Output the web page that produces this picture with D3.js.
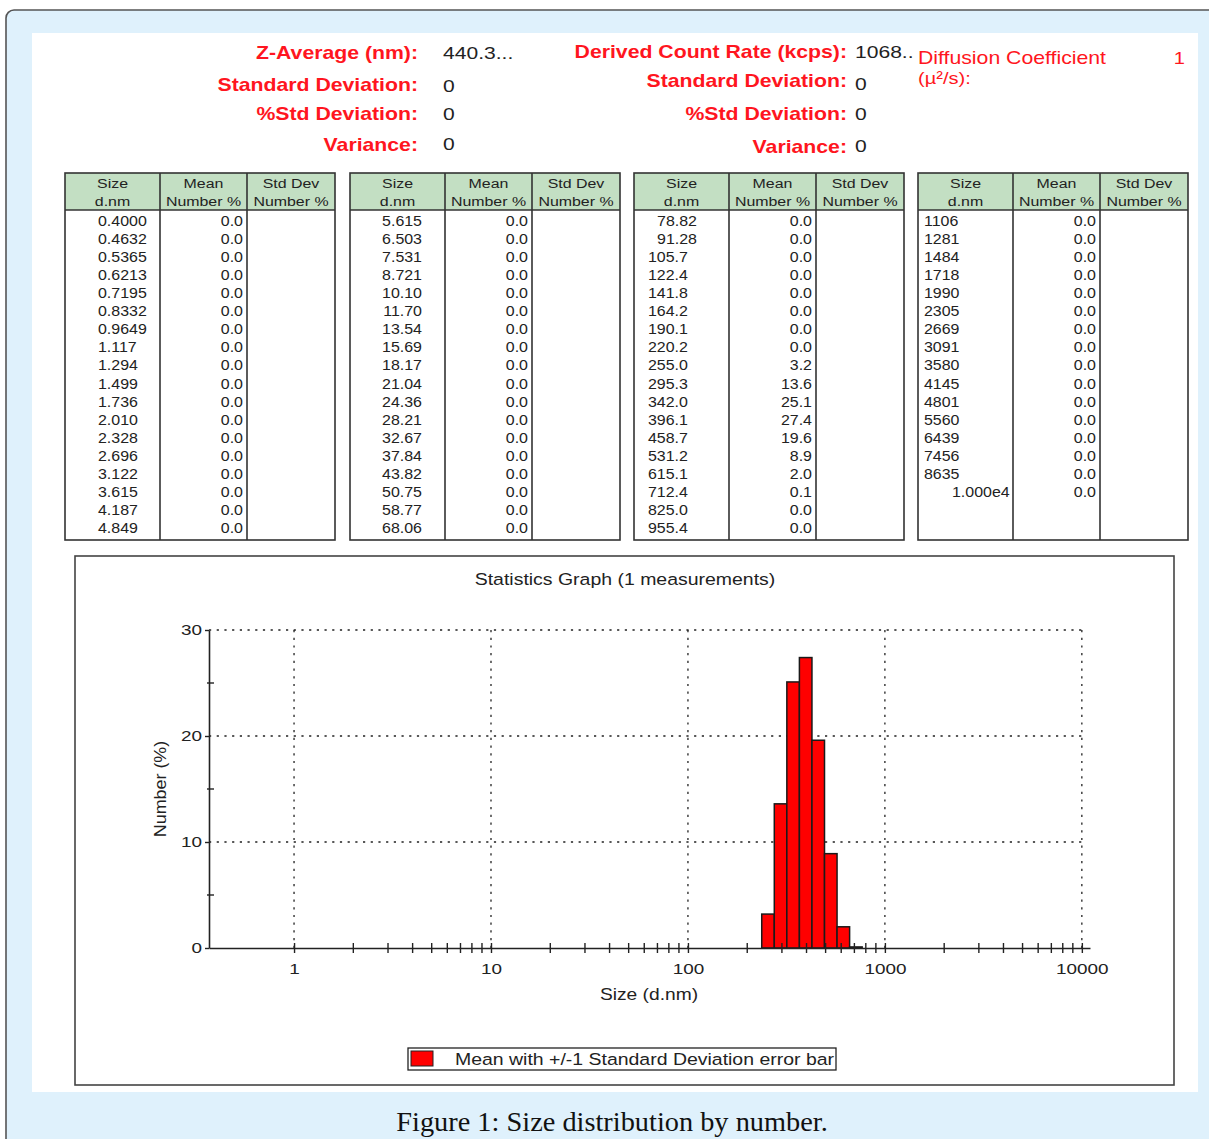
<!DOCTYPE html>
<html>
<head>
<meta charset="utf-8">
<script src="https://cdn.jsdelivr.net/npm/d3@7"></script>
<style>
  html, body { margin: 0; padding: 0; background: #fff; }
  svg { display: block; }
</style>
</head>
<body>
<svg id="page" width="1209" height="1139"></svg>
<script>
// ---- Summary statistics ----
const leftStatLabels = ["Z-Average (nm):", "Standard Deviation:", "%Std Deviation:", "Variance:"];
const leftStatValues = ["440.3...", "0", "0", "0"];
const rightStatLabels = ["Derived Count Rate (kcps):", "Standard Deviation:", "%Std Deviation:", "Variance:"];
const rightStatValues = ["1068..", "0", "0", "0"];
const diffusionLabel = ["Diffusion Coefficient", "(\u00b5\u00b2/s):"];
const diffusionValue = "1";

// ---- Size classes (d.nm) and mean number % ----
const sizeLabels = [
  "0.4000","0.4632","0.5365","0.6213","0.7195","0.8332","0.9649","1.117","1.294","1.499",
  "1.736","2.010","2.328","2.696","3.122","3.615","4.187","4.849",
  "5.615","6.503","7.531","8.721","10.10","11.70","13.54","15.69","18.17","21.04",
  "24.36","28.21","32.67","37.84","43.82","50.75","58.77","68.06",
  "78.82","91.28","105.7","122.4","141.8","164.2","190.1","220.2","255.0","295.3",
  "342.0","396.1","458.7","531.2","615.1","712.4","825.0","955.4",
  "1106","1281","1484","1718","1990","2305","2669","3091","3580","4145",
  "4801","5560","6439","7456","8635","1.000e4"
];
const meanNumber = [
  0,0,0,0,0,0,0,0,0,0, 0,0,0,0,0,0,0,0,
  0,0,0,0,0,0,0,0,0,0, 0,0,0,0,0,0,0,0,
  0,0,0,0,0,0,0,0,3.2,13.6, 25.1,27.4,19.6,8.9,2.0,0.1,0,0,
  0,0,0,0,0,0,0,0,0,0, 0,0,0,0,0,0
];
const tableHeaders = [["Size", "d.nm"], ["Mean", "Number %"], ["Std Dev", "Number %"]];
const rowsPerTable = 18;

// ---- Graph labels ----
const graphTitle = "Statistics Graph (1 measurements)";
const xAxisTitle = "Size (d.nm)";
const yAxisTitle = "Number (%)";
const xMajorTicks = [1, 10, 100, 1000, 10000];
const yMajorTicks = [0, 10, 20, 30];
const yMinorTicks = [5, 15, 25];
const legendText = "Mean with +/-1 Standard Deviation error bar";
const caption = "Figure 1: Size distribution by number.";

const svg = d3.select("#page");
const RED = "#ff1520";
const INK = "#222";
const SANS = "'Liberation Sans', Arial, sans-serif";
const SX = 1.18; // the report font is set wide

// text helper: wide sans text anchored at (x, y)
function txt(parent, x, y, str, o = {}) {
  const sx = o.sx || SX;
  return parent.append("text")
    .attr("transform", `translate(${x},${y})${o.rotate ? ` rotate(${o.rotate})` : ""} scale(${sx},1)`)
    .attr("text-anchor", o.anchor || "start")
    .attr("font-size", o.size || 14)
    .attr("font-weight", o.bold ? "bold" : null)
    .attr("fill", o.fill || INK)
    .style("font-family", o.family || SANS)
    .text(str);
}

// Page frame
svg.append("rect").attr("x", 6).attr("y", 10).attr("width", 1240).attr("height", 1160)
  .attr("rx", 8).attr("fill", "#dff1fc").attr("stroke", "#555").attr("stroke-width", 1.6);
svg.append("rect").attr("x", 32).attr("y", 33).attr("width", 1166).attr("height", 1059)
  .attr("fill", "#fff");

// ---- Header statistics ----
const leftRowsY = [59, 91, 120, 151];
const rightRowsY = [58, 87, 120, 153];
const leftValY = [59, 92, 120, 150];
const rightValY = [58, 90, 120, 152];
leftStatLabels.forEach((l, i) => {
  txt(svg, 418, leftRowsY[i], l, { anchor: "end", size: 18, bold: true, fill: RED });
  txt(svg, 443, leftValY[i], leftStatValues[i], { size: 17, sx: 1.24 });
});
rightStatLabels.forEach((l, i) => {
  txt(svg, 847, rightRowsY[i], l, { anchor: "end", size: 18, bold: true, fill: RED });
  txt(svg, 855, rightValY[i], rightStatValues[i], { size: 17, sx: 1.24 });
});
txt(svg, 918, 64, diffusionLabel[0], { size: 18, fill: RED });
txt(svg, 918, 84, diffusionLabel[1], { size: 17, fill: RED });
txt(svg, 1185, 64, diffusionValue, { anchor: "end", size: 17, fill: RED });

// ---- Tables ----
const tableX = [65, 350, 634, 918];
const colW = [95, 87, 88];
const tTop = 173, tHead = 37, tBottom = 540, rowStep = 18.06, firstRowY = 226;
// how each table places its size strings
const sizeAlign = [
  () => ({ anchor: "start", dx: 33 }),
  () => ({ anchor: "end", dx: 72 }),
  (s) => (+s < 100 ? { anchor: "end", dx: 63 } : { anchor: "start", dx: 14 }),
  (s) => (s.includes("e") ? { anchor: "start", dx: 34 } : { anchor: "start", dx: 6 })
];

tableX.forEach((tx, t) => {
  const g = svg.append("g").attr("transform", `translate(${tx},0)`);
  const w = d3.sum(colW);
  g.append("rect").attr("x", 0).attr("y", tTop).attr("width", w).attr("height", tHead)
    .attr("fill", "#c3dfc3");
  g.append("rect").attr("x", 0).attr("y", tTop).attr("width", w).attr("height", tBottom - tTop)
    .attr("fill", "none").attr("stroke", "#333").attr("stroke-width", 1.6);
  g.append("line").attr("x1", 0).attr("x2", w).attr("y1", tTop + tHead).attr("y2", tTop + tHead)
    .attr("stroke", "#333").attr("stroke-width", 1.6);
  let cx = 0;
  colW.forEach((cw, c) => {
    if (c > 0) g.append("line").attr("x1", cx).attr("x2", cx).attr("y1", tTop).attr("y2", tBottom)
      .attr("stroke", "#333").attr("stroke-width", 1.6);
    tableHeaders[c].forEach((h, k) => {
      txt(g, cx + cw / 2, tTop + 15 + k * 18, h, { anchor: "middle", size: 13.5 });
    });
    cx += cw;
  });
  const start = t * rowsPerTable;
  const labels = sizeLabels.slice(start, start + rowsPerTable);
  labels.forEach((s, r) => {
    const y = firstRowY + r * rowStep;
    const a = sizeAlign[t](s);
    txt(g, a.dx, y, s, { anchor: a.anchor, size: 14, sx: 1.14 });
    txt(g, colW[0] + colW[1] - 4, y, d3.format(".1f")(meanNumber[start + r]),
      { anchor: "end", size: 14, sx: 1.14 });
  });
});

// ---- Statistics graph ----
svg.append("rect").attr("x", 75).attr("y", 556).attr("width", 1099).attr("height", 529)
  .attr("fill", "#fff").attr("stroke", "#444").attr("stroke-width", 1.6);
txt(svg, 625, 585, graphTitle, { anchor: "middle", size: 16.5 });

const x = d3.scaleLog().domain([0.37, 11000]).range([209, 1090]);
const y = d3.scaleLinear().domain([0, 30]).range([948, 630]);
const plot = svg.append("g");

// dotted grid
const gridDash = "2.2,5.5";
yMajorTicks.filter(v => v > 0).forEach(v => {
  plot.append("line").attr("x1", x.range()[0]).attr("x2", x(10000) + 2)
    .attr("y1", y(v)).attr("y2", y(v))
    .attr("stroke", INK).attr("stroke-width", 1.3).attr("stroke-dasharray", gridDash);
});
xMajorTicks.forEach(v => {
  plot.append("line").attr("x1", x(v)).attr("x2", x(v)).attr("y1", y(30)).attr("y2", y(0))
    .attr("stroke", INK).attr("stroke-width", 1.3).attr("stroke-dasharray", gridDash);
});

// bars spanning each size class (geometric mid-points to neighbours)
const sizes = sizeLabels.map(Number);
const bins = sizes.map((s, i) => ({
  size: s,
  value: meanNumber[i],
  lo: i > 0 ? Math.sqrt(sizes[i - 1] * s) : s * s / Math.sqrt(s * sizes[1]),
  hi: i < sizes.length - 1 ? Math.sqrt(s * sizes[i + 1]) : s * Math.sqrt(s / sizes[i - 1])
})).filter(d => d.value > 0);
plot.selectAll("rect.bar").data(bins).join("rect").attr("class", "bar")
  .attr("x", d => x(d.lo)).attr("width", d => x(d.hi) - x(d.lo))
  .attr("y", d => y(d.value)).attr("height", d => y(0) - y(d.value))
  .attr("fill", "#ff0000").attr("stroke", "#1a1a1a").attr("stroke-width", 1.5);

// x axis
const xAxis = d3.axisBottom(x).tickValues(xMajorTicks).tickFormat(d3.format("d"))
  .tickSize(5).tickSizeOuter(0).tickPadding(10);
const xg = plot.append("g").attr("transform", `translate(0,${y(0)})`).call(xAxis);
xg.select(".domain").attr("stroke", INK).attr("stroke-width", 1.6);
xg.selectAll(".tick line").attr("y1", -5).attr("stroke", INK).attr("stroke-width", 1.4);
xg.selectAll(".tick text").attr("font-size", 15).attr("fill", INK)
  .attr("transform", "scale(1.26,1)").style("font-family", SANS);
const minor = [];
[1, 10, 100, 1000].forEach(d => { for (let k = 2; k <= 9; k++) minor.push(d * k); });
xg.selectAll("line.minor").data(minor).join("line").attr("class", "minor")
  .attr("x1", d => x(d)).attr("x2", d => x(d)).attr("y1", -5).attr("y2", 5)
  .attr("stroke", INK).attr("stroke-width", 1.4);

// y axis
const yAxis = d3.axisLeft(y).tickValues(yMajorTicks).tickSize(4).tickSizeOuter(0).tickPadding(3);
const yg = plot.append("g").attr("transform", `translate(${x.range()[0]},0)`).call(yAxis);
yg.select(".domain").attr("stroke", INK).attr("stroke-width", 1.6);
yg.selectAll(".tick line").attr("stroke", INK).attr("stroke-width", 1.4);
yg.selectAll(".tick text").attr("font-size", 15).attr("fill", INK)
  .attr("x", -7 / 1.26).attr("transform", "scale(1.26,1)").style("font-family", SANS);
yg.selectAll("line.minor").data(yMinorTicks).join("line").attr("class", "minor")
  .attr("x1", -2).attr("x2", 5).attr("y1", d => y(d)).attr("y2", d => y(d))
  .attr("stroke", INK).attr("stroke-width", 1.4);

// axis titles
txt(svg, 649, 1000, xAxisTitle, { anchor: "middle", size: 16, sx: 1.2 });
txt(svg, 166, 789, yAxisTitle, { anchor: "middle", size: 16, sx: 1.12, rotate: -90 });

// legend
svg.append("rect").attr("x", 408).attr("y", 1048).attr("width", 428).attr("height", 22)
  .attr("fill", "#fff").attr("stroke", INK).attr("stroke-width", 1.3);
svg.append("rect").attr("x", 411).attr("y", 1051).attr("width", 22).attr("height", 15)
  .attr("fill", "#ff0000").attr("stroke", INK).attr("stroke-width", 1);
txt(svg, 455, 1065, legendText, { size: 16.5 });

// caption
txt(svg, 612, 1131, caption, {
  anchor: "middle", size: 26.5, sx: 1.07, fill: "#111",
  family: "'Liberation Serif', 'DejaVu Serif', serif"
});
</script>
</body>
</html>
